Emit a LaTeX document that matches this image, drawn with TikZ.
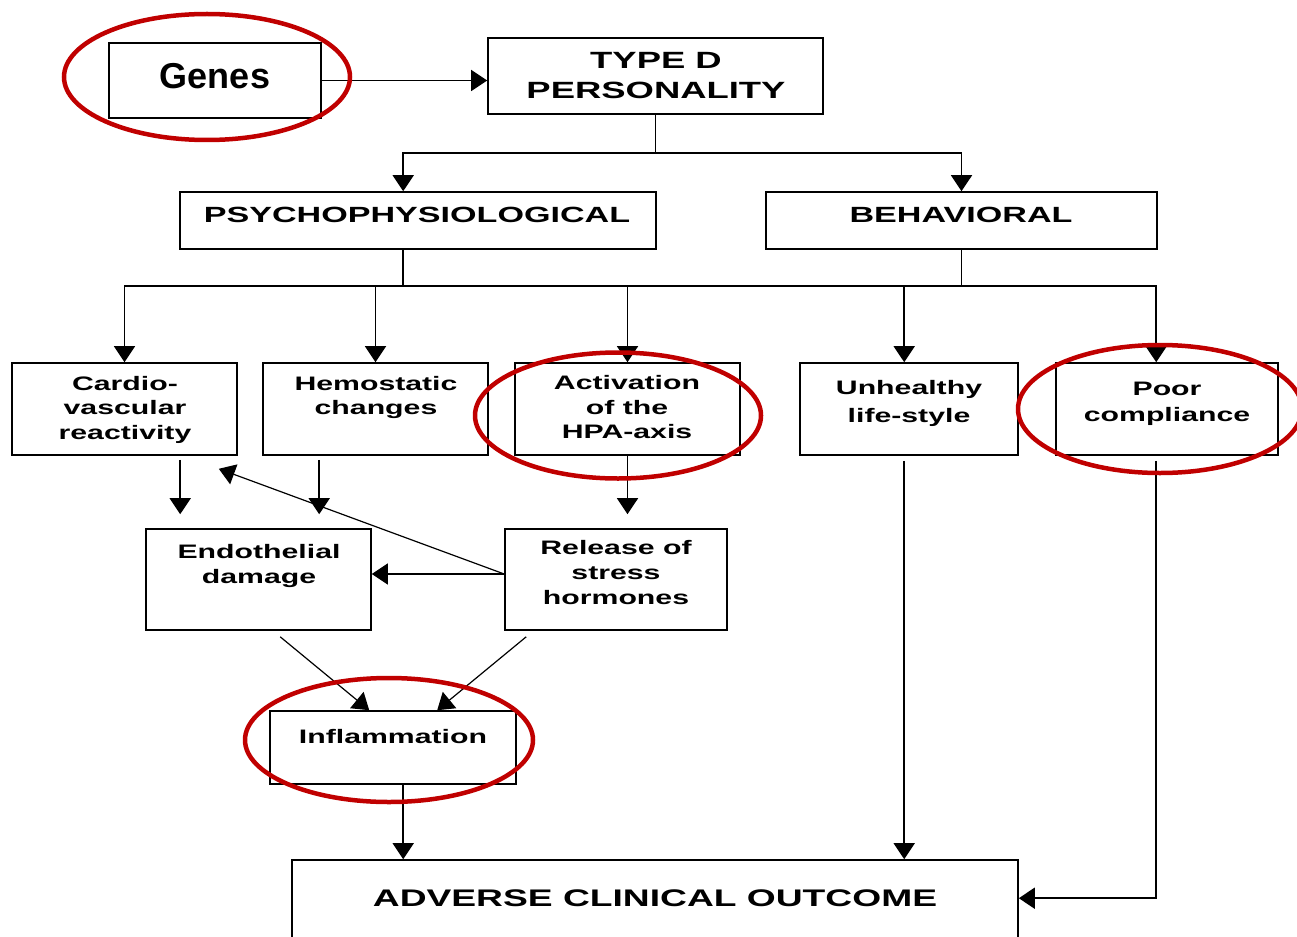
\documentclass[tikz,border=0pt]{standalone}
\usepackage{fontspec}
\setmainfont{Liberation Sans}
\newfontfamily\widefont{Liberation Sans}[FakeStretch=1.55]
\usetikzlibrary{arrows.meta,calc}
\definecolor{ringred}{RGB}{192,0,0}

\begin{document}
\begin{tikzpicture}[x=1pt,y=-1pt,
  box/.style={draw=black, line width=1.6pt, inner sep=0pt, rectangle},
  lbl/.style={inner sep=0pt, align=center, anchor=north,
    font=\widefont\bfseries\fontsize{19.5}{24.5}\selectfont},
  caps/.style={inner sep=0pt, align=center,
    font=\widefont\bfseries\fontsize{22}{26}\selectfont},
  link/.style={line width=1.6pt},
  arr/.style={line width=1.6pt, -{Triangle[width=21pt,length=16pt]}},
  thinarr/.style={line width=1.2pt, -{Triangle[width=21pt,length=16pt]}},
  ring/.style={draw=ringred, line width=4.5pt},
]
\useasboundingbox (0,0) rectangle (1297,936);

% boxes
\node[box, minimum width=212pt, minimum height=75pt, line width=2.4pt] (genes) at (215,80.5) {};
\node[box, minimum width=335pt, minimum height=76pt] (typed) at (655.5,76) {};
\node[box, minimum width=476pt, minimum height=57pt] (psycho) at (418,220.5) {};
\node[box, minimum width=391pt, minimum height=57pt] (behav) at (961.5,220.5) {};
\node[box, minimum width=225pt, minimum height=92pt] (cardio) at (124.5,409) {};
\node[box, minimum width=225pt, minimum height=92pt] (hemo) at (375.5,409) {};
\node[box, minimum width=225pt, minimum height=92pt] (activ) at (627.5,409) {};
\node[box, minimum width=218pt, minimum height=92pt] (unhealthy) at (909,409) {};
\node[box, minimum width=222pt, minimum height=92pt] (poor) at (1167,409) {};
\node[box, minimum width=225pt, minimum height=101pt] (endo) at (258.5,579.5) {};
\node[box, minimum width=222pt, minimum height=101pt] (release) at (616,579.5) {};
\node[box, minimum width=246pt, minimum height=73pt] (inflam) at (393,747.5) {};
\node[box, minimum width=726pt, minimum height=90pt] (adverse) at (655,905) {};

% labels
\node[inner sep=0pt, font=\bfseries\fontsize{36}{40}\selectfont] (genesT) at (215,76) {Genes};
\node[lbl, font=\widefont\bfseries\fontsize{23.5}{30}\selectfont] (typedT) at (656,52) {TYPE D\\PERSONALITY};
\node[caps] (psychoT) at (417,214.5) {PSYCHOPHYSIOLOGICAL};
\node[caps] (behavT) at (961,214.5) {BEHAVIORAL};
\node[lbl] (cardioT) at (125,376) {Cardio-\\vascular\\reactivity};
\node[lbl] (hemoT) at (376,376) {Hemostatic\\changes};
\node[lbl] (activT) at (627,375.5) {Activation\\of the\\HPA-axis};
\node[lbl, font=\widefont\bfseries\fontsize{19.5}{28}\selectfont] (unhT) at (909,380.5) {Unhealthy\\life-style};
\node[lbl, font=\widefont\bfseries\fontsize{19.5}{25.5}\selectfont] (poorT) at (1167,382) {Poor\\compliance};
\node[lbl, font=\widefont\bfseries\fontsize{19.5}{25.5}\selectfont] (endoT) at (259,544) {Endothelial\\damage};
\node[lbl, font=\widefont\bfseries\fontsize{19.5}{25}\selectfont] (releaseT) at (616,540) {Release of\\stress\\hormones};
\node[lbl, anchor=center] (inflamT) at (393,737) {Inflammation};
\node[caps, font=\widefont\bfseries\fontsize{24}{28}\selectfont] (adverseT) at (655,898.5) {ADVERSE CLINICAL OUTCOME};

% helper points on box edges
\coordinate (split) at ($(typed.south)+(0,38)$);
\coordinate (psyIn) at ($(psycho.north west)+(224,0)$);
\coordinate (psyOut) at ($(psycho.south west)+(224,0)$);
\coordinate (busL) at ($(cardio.north)+(0,-76)$);
\coordinate (pIn) at ($(poor.north west)+(101,0)$);
\coordinate (uIn) at ($(unhealthy.north west)+(105,0)$);
\coordinate (busR) at (pIn |- busL);
\coordinate (e1) at ($(endo.north west)+(35,0)$);
\coordinate (e2) at ($(endo.north west)+(174,0)$);
\coordinate (relOut) at ($(release.west)+(0,-5.5)$);
\coordinate (cvIn) at ($(cardio.south east)+(-19,13)$);
\coordinate (d1) at ($(endo.south west)+(135,6)$);
\coordinate (d2) at ($(release.south west)+(22,6)$);
\coordinate (i1) at ($(inflam.north west)+(100,0)$);
\coordinate (i2) at ($(inflam.north west)+(168,0)$);
\coordinate (a1) at ($(adverse.north west)+(112,0)$);
\coordinate (aE) at ($(adverse.north east)+(0,39)$);

% connectors
\draw[arr] (genes.east) -- (genes.east -| typed.west);
\draw[link] (typed.south) -- (split);
\draw[arr] (split) -| (psyIn);
\draw[arr] (split) -| (behav.north);

\draw[link] (psyOut) -- (psyOut |- busL);
\draw[link] (behav.south) -- (behav.south |- busL);
\draw[link, line cap=rect] (busL) -- (busR);
\draw[arr] (busL) -- (cardio.north);
\draw[arr] (hemo.north |- busL) -- (hemo.north);
\draw[arr] (activ.north |- busL) -- (activ.north);
\draw[arr] (uIn |- busL) -- (uIn);
\draw[arr] (busR) -- (pIn);

\draw[arr, shorten <=4pt, shorten >=14pt] (e1 |- cardio.south) -- (e1);
\draw[arr, shorten <=4pt, shorten >=14pt] (e2 |- hemo.south) -- (e2);
\draw[arr, shorten >=14pt] (activ.south) -- (activ.south |- release.north);

\draw[thinarr] (relOut) -- (cvIn);
\draw[arr] (relOut) -- (relOut -| endo.east);
\draw[thinarr] (d1) -- (i1);
\draw[thinarr] (d2) -- (i2);

\draw[arr] (a1 |- inflam.south) -- (a1);
\draw[arr, shorten <=5pt] (uIn |- unhealthy.south) -- (uIn |- adverse.north);
\draw[arr, shorten <=5pt] (pIn |- poor.south) |- (aE);

% highlight rings
\draw[ring] (207,77) ellipse [x radius=143pt, y radius=63pt];
\draw[ring] (618,415.5) ellipse [x radius=143pt, y radius=63pt];
\draw[ring] (1160,409) ellipse [x radius=142pt, y radius=64pt];
\draw[ring] (389,740) ellipse [x radius=144pt, y radius=62pt];
\end{tikzpicture}
\end{document}
